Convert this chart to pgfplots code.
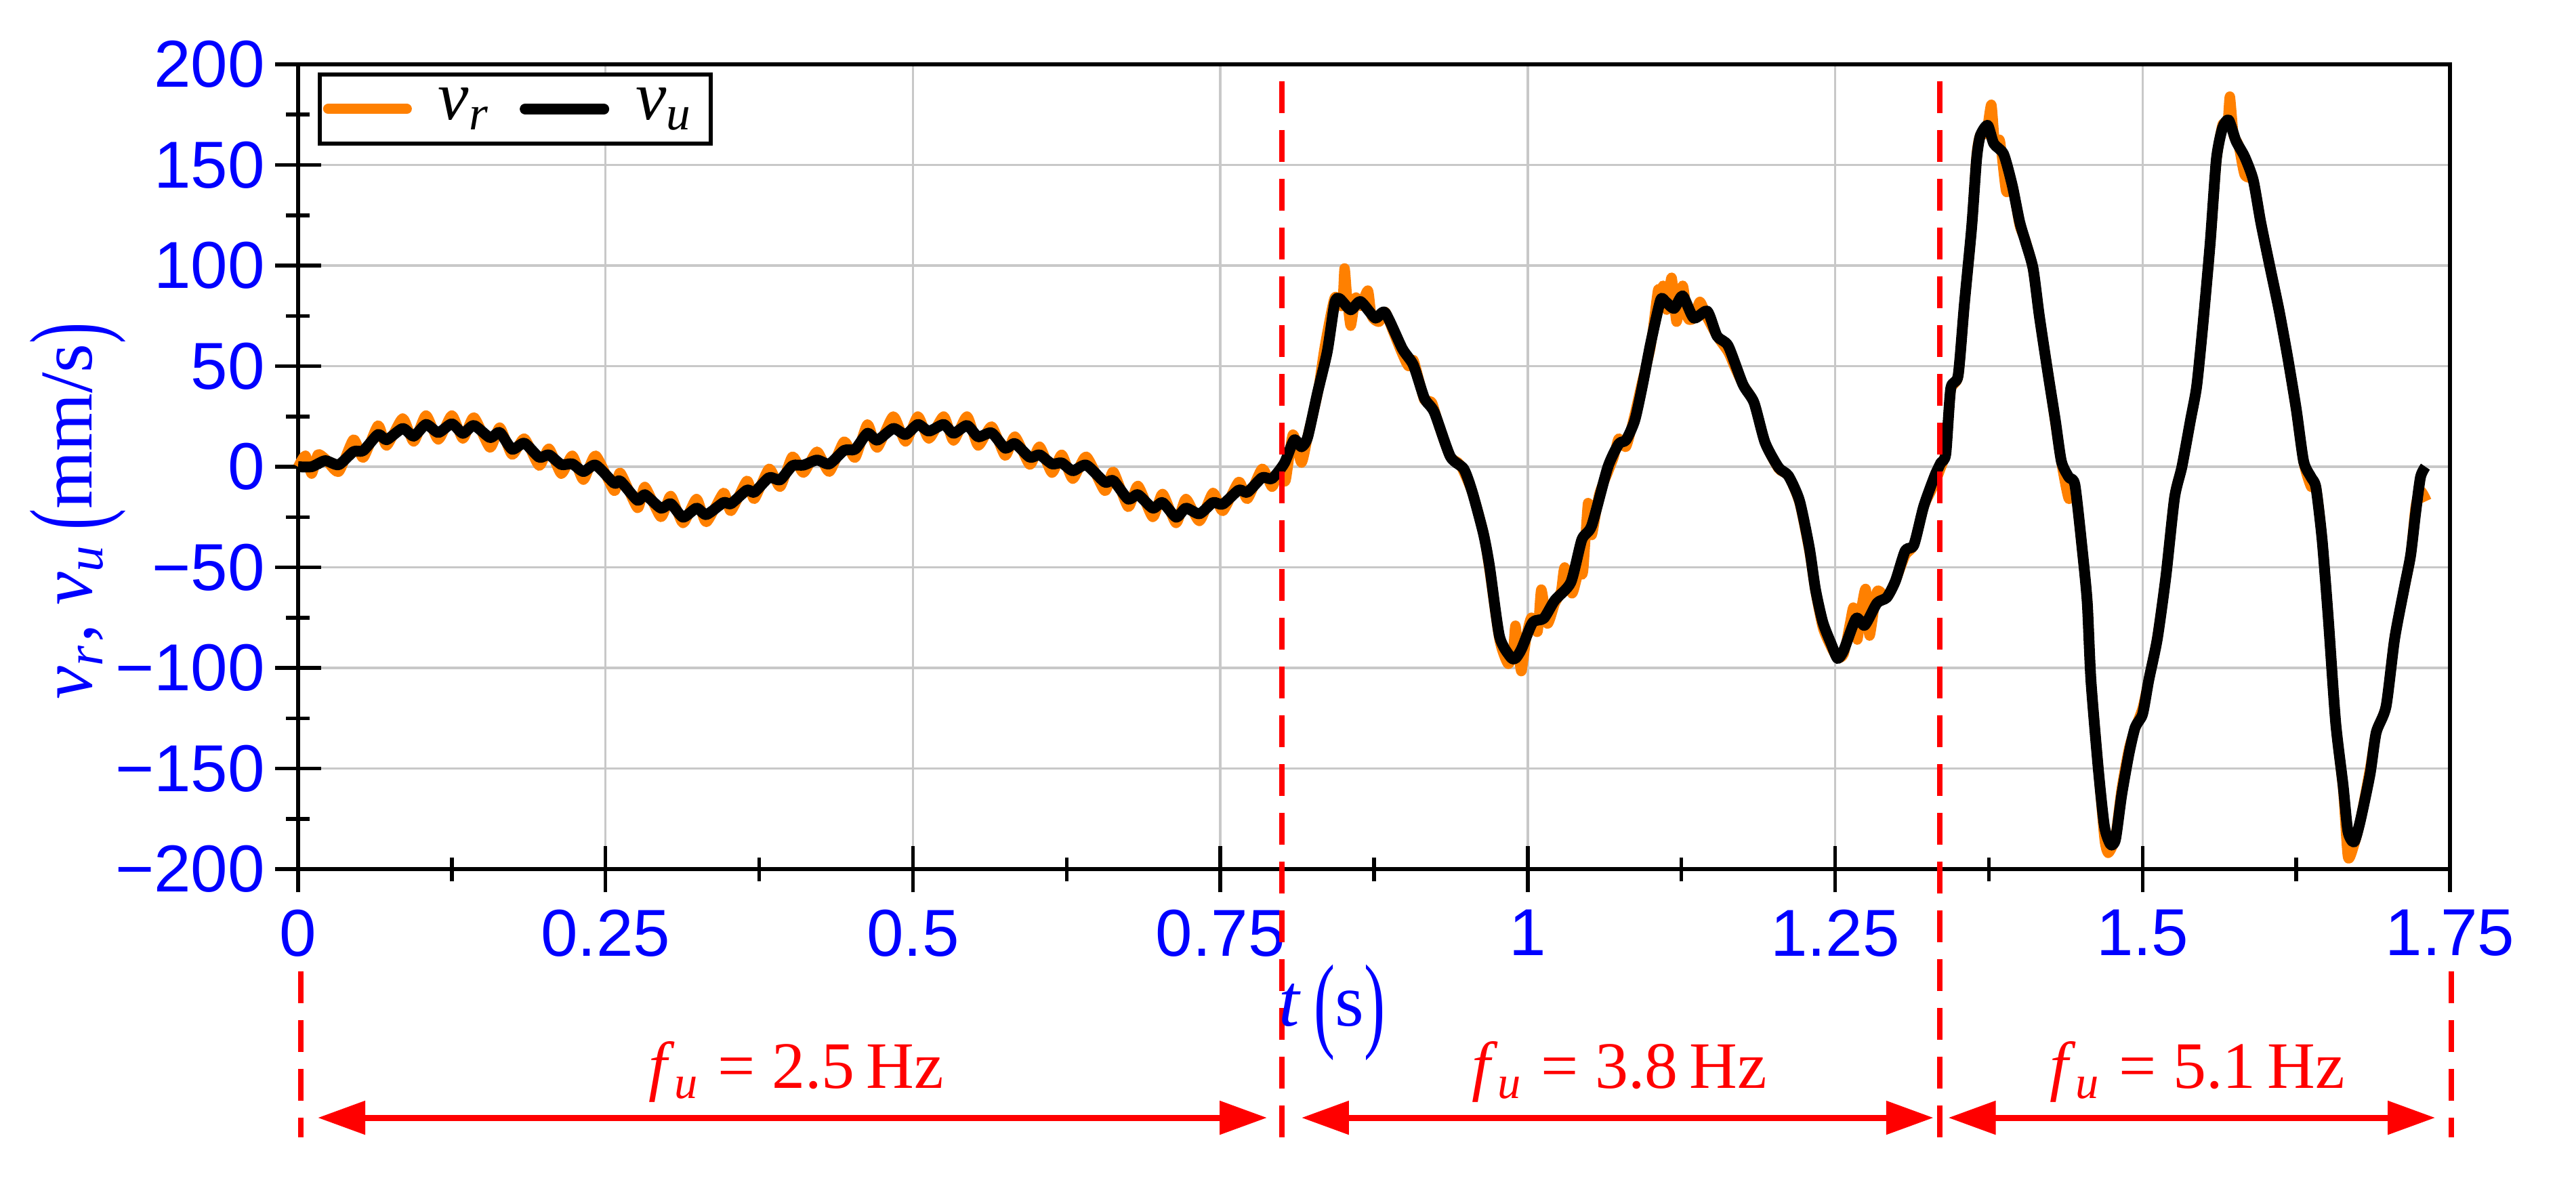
\documentclass[border=0pt]{standalone}
\usepackage{fontspec}
\setmainfont{Liberation Sans}
\newfontfamily\tnr{Liberation Serif}
\usepackage{graphicx}
\usepackage{pgfplots}
\pgfplotsset{compat=1.18}
\usetikzlibrary{arrows.meta}
\definecolor{vorange}{RGB}{255,128,0}
\definecolor{tblue}{RGB}{0,0,255}
\definecolor{ared}{RGB}{255,0,0}
\definecolor{gridgray}{RGB}{200,200,200}
\newcommand{\lpar}{\raisebox{-0.16em}{\scalebox{0.85}[1.42]{(}}}
\newcommand{\rpar}{\raisebox{-0.16em}{\scalebox{0.85}[1.42]{)}}}
\begin{document}
\begin{tikzpicture}
\path[use as bounding box] (-44pt,-45.8pt) rectangle (336.2pt,128.3pt);
\begin{axis}[
  scale only axis, width=317.6pt, height=118.8pt,
  at={(0pt,0pt)}, anchor=south west,
  xmin=0, xmax=1.75, ymin=-200, ymax=200,
  xtick={0,0.25,0.5,0.75,1,1.25,1.5,1.75},
  xticklabels={0,0.25,0.5,0.75,1,1.25,1.5,1.75},
  ytick={-200,-150,-100,-50,0,50,100,150,200},
  yticklabels={−200,−150,−100,−50,0,50,100,150,200},
  minor x tick num=1, minor y tick num=1,
  xtick pos=bottom, ytick pos=left,
  tick align=center,
  major tick length=6.8pt, minor tick length=3.5pt,
  tick style={black, line width=0.55pt},
  axis line style={black, line width=0.55pt},
  grid=major,
  major grid style={draw=gridgray, line width=0.35pt},
  ticklabel style={font=\fontsize{9.8}{11}\selectfont, text=tblue, inner sep=0pt},
  xticklabel style={anchor=north, yshift=-2.4pt},
  yticklabel style={anchor=east, xshift=-1.3pt},
  xlabel={\fontsize{11}{13}\selectfont\tnr\textit{t}\,\lpar s\rpar},
  ylabel={\fontsize{11}{13}\selectfont\tnr\textit{v}\textsubscript{\textit{r}}, \textit{v}\textsubscript{\textit{u}}\,\lpar mm/s\rpar},
  xlabel style={at={(axis description cs:0.4805,-0.178)}, anchor=center, text=tblue, inner sep=0pt},
  ylabel style={at={(axis description cs:-0.1023,0.445)}, anchor=center, text=tblue, inner sep=0pt},
  clip=false,
  legend columns=2,
  legend cell align=left,
  legend image code/.code={\draw[#1, line cap=round] (0pt,0pt) -- (11.6pt,0pt); \path (13.5pt,0pt);},
  legend style={at={(axis description cs:0.0091,0.9899)}, anchor=north west,
    draw=black, line width=0.6pt, fill=white,
    inner xsep=0.5pt, inner ysep=0.5pt,
    font=\fontsize{10.2}{12}\selectfont\tnr,
    nodes={inner xsep=2pt, inner ysep=1.5pt},
    /tikz/every even column/.style={column sep=2.2pt},
    /tikz/every odd column/.style={column sep=0pt}},
]
\addplot[vorange, line width=1.5pt, line join=round, smooth, tension=0.4] coordinates {
(0,0)(0.006,5.5)(0.011,-3.5)(0.016,6)(0.022,4)(0.033,-2.5)(0.045,13.5)(0.053,4.5)(0.065,20.5)(0.072,10.5)(0.085,24)(0.094,12.5)(0.104,25.5)(0.114,13.5)(0.125,25.5)(0.134,14)(0.143,24.5)(0.156,9.5)(0.164,19.5)(0.174,6)(0.184,14)(0.196,0.5)(0.204,9)(0.214,-3.5)(0.223,5.5)(0.232,-6.5)(0.242,5.5)(0.257,-12)(0.262,-3)(0.276,-20.5)(0.282,-10)(0.295,-25)(0.303,-14.5)(0.313,-28)(0.324,-16)(0.332,-27.5)(0.346,-13)(0.352,-22)(0.365,-7)(0.371,-16)(0.383,-1)(0.392,-10)(0.402,5)(0.411,-3)(0.422,7.5)(0.432,-2.5)(0.444,12.5)(0.453,4.5)(0.463,21)(0.471,9.5)(0.484,25)(0.494,12.5)(0.504,25)(0.513,14)(0.525,25)(0.533,13)(0.544,25)(0.553,10.5)(0.564,20)(0.575,5.5)(0.583,15)(0.595,1)(0.603,10)(0.613,-3)(0.621,6)(0.630,-6)(0.641,5)(0.656,-12)(0.663,-2.5)(0.675,-20)(0.683,-9.5)(0.695,-25)(0.703,-13.5)(0.714,-28)(0.722,-16)(0.733,-27)(0.744,-13)(0.752,-22)(0.765,-7.5)(0.772,-16)(0.784,-1)(0.792,-10)(0.798,-2)(0.803,-7)(0.809,16)(0.816,2)(0.822,18)(0.829,36)(0.835,60)(0.843,84)(0.849,80)(0.851,98.6)(0.853,85)(0.856,70)(0.860,84)(0.864,80)(0.870,87.6)(0.873,75)(0.879,72)(0.884,77)(0.890,68)(0.898,56)(0.903,50)(0.907,53)(0.912,42)(0.916,33)(0.922,32)(0.928,20)(0.937,5)(0.945,1)(0.955,-13)(0.964,-33)(0.969,-52)(0.977,-86)(0.984,-98)(0.988,-92)(0.990,-79)(0.993,-95)(0.995,-101.5)(0.999,-84)(1.003,-75)(1.008,-82)(1.011,-61)(1.016,-78)(1.022,-68)(1.027,-62)(1.030,-50)(1.036,-63)(1.041,-53)(1.045,-52)(1.049,-18)(1.052,-34)(1.058,-14)(1.065,-3)(1.070,5)(1.074,14)(1.080,10)(1.087,26)(1.093,42)(1.100,60)(1.106,88)(1.108,80)(1.110,90)(1.113,78)(1.117,94)(1.121,72)(1.126,90)(1.130,74)(1.135,73.9)(1.140,82)(1.146,74)(1.154,64.9)(1.163,57)(1.168,50)(1.175,40.9)(1.184,31.9)(1.193,12)(1.204,-1)(1.212,-4.5)(1.221,-18)(1.229,-42)(1.234,-62)(1.240,-80)(1.247,-90)(1.252,-95)(1.257,-93)(1.262,-78)(1.265,-70)(1.268,-86)(1.272,-68)(1.275,-61)(1.278,-84)(1.284,-62)(1.292,-65)(1.299,-56.8)(1.307,-44)(1.314,-38.9)(1.322,-20)(1.328,-12)(1.331,-8)(1.335,-2)(1.340,8)(1.344,38)(1.350,45)(1.355,80)(1.361,119)(1.365,155)(1.368,165)(1.373,166)(1.377,180)(1.380,160)(1.384,162)(1.389,137)(1.394,140)(1.400,120)(1.405,112)(1.411,98)(1.416,75)(1.423,47)(1.429,22)(1.434,2)(1.440,-16)(1.445,-10)(1.451,-42)(1.455,-67)(1.458,-106)(1.464,-150)(1.469,-185)(1.472,-192)(1.476,-188)(1.478,-184)(1.483,-160)(1.489,-140)(1.494,-130)(1.500,-120)(1.505,-106)(1.512,-85)(1.519,-54)(1.526,-15)(1.532,0)(1.539,23)(1.544,40)(1.549,70)(1.555,111)(1.560,152)(1.565,170)(1.569,170)(1.571,184)(1.574,165)(1.578,160)(1.583,145)(1.590,142)(1.596,122)(1.603,101)(1.611,78)(1.618,54)(1.625,28)(1.631,2)(1.637,-10)(1.641,-10)(1.646,-36)(1.651,-75)(1.657,-127)(1.663,-160)(1.667,-194)(1.672,-188)(1.677,-176)(1.685,-150)(1.690,-132)(1.698,-119)(1.705,-85)(1.713,-60)(1.718,-44)(1.722,-20)(1.726,-12)(1.731,-17)
};
\addlegendentry{\textit{v}\textsubscript{\textit{r}}}
\addplot[black, line width=1.6pt, line join=round, smooth, tension=0.4] coordinates {
(0,0)(0.011,0)(0.022,3)(0.033,1)(0.045,7.5)(0.053,8)(0.065,16)(0.072,13.4)(0.085,19)(0.094,15.2)(0.104,21)(0.114,17)(0.125,21.3)(0.134,16.6)(0.143,20.5)(0.156,14.5)(0.164,17)(0.174,8.7)(0.184,11.7)(0.196,4.7)(0.204,5.9)(0.214,1.1)(0.223,1.4)(0.232,-2.4)(0.242,0.8)(0.257,-8.2)(0.262,-7.1)(0.276,-16.7)(0.282,-13.9)(0.295,-20.6)(0.303,-18.4)(0.313,-25.1)(0.324,-20.6)(0.332,-23.8)(0.346,-17.8)(0.352,-18.4)(0.365,-11.6)(0.371,-12.7)(0.383,-5.4)(0.392,-6.5)(0.402,0.5)(0.411,0.8)(0.422,3.3)(0.432,1.4)(0.444,8.1)(0.453,8.7)(0.463,16.6)(0.471,13.2)(0.484,19)(0.494,16)(0.504,21)(0.513,17.7)(0.525,21)(0.533,16.6)(0.544,20.5)(0.553,14.9)(0.564,16.8)(0.575,9.2)(0.583,11.5)(0.595,4.7)(0.603,5.9)(0.613,1.4)(0.621,1.9)(0.630,-2)(0.641,0.8)(0.656,-7.7)(0.663,-6.9)(0.675,-16.1)(0.683,-13.9)(0.695,-20.6)(0.703,-17.8)(0.714,-25.1)(0.722,-20.6)(0.733,-23.4)(0.744,-17.8)(0.752,-18.6)(0.765,-11.6)(0.772,-12.7)(0.784,-5.4)(0.792,-5.9)(0.802,1.7)(0.810,13.3)(0.816,9.9)(0.821,14.7)(0.829,36.7)(0.837,57.4)(0.843,81.4)(0.847,83.5)(0.856,78)(0.864,82.1)(0.876,73.9)(0.884,76.6)(0.898,58.7)(0.907,50.5)(0.916,34)(0.924,27.1)(0.937,5.1)(0.948,-1.1)(0.955,-12.8)(0.964,-33.4)(0.969,-49.9)(0.977,-84.3)(0.986,-94.6)(0.990,-95.3)(0.995,-90.5)(1.004,-77.4)(1.013,-75.4)(1.022,-66.4)(1.035,-57.5)(1.044,-36.2)(1.052,-29.3)(1.065,-0.4)(1.074,11.3)(1.080,13.3)(1.087,23)(1.093,39.5)(1.100,61.5)(1.108,82.8)(1.112,82.1)(1.119,78.7)(1.126,84.9)(1.135,73.9)(1.146,77.3)(1.154,64.9)(1.163,60.1)(1.175,40.9)(1.184,31.9)(1.193,12)(1.204,-0.4)(1.212,-4.5)(1.221,-16.9)(1.229,-40.3)(1.234,-61)(1.240,-77.4)(1.247,-88.4)(1.252,-95.3)(1.257,-91.2)(1.267,-75.4)(1.274,-78.8)(1.284,-67.8)(1.292,-65)(1.299,-56.8)(1.307,-41.7)(1.314,-38.9)(1.322,-19.7)(1.331,-4.5)(1.336,2)(1.340,6.5)(1.344,38.9)(1.350,45.3)(1.355,80.3)(1.361,119)(1.365,152.8)(1.368,164.5)(1.374,169.7)(1.379,160.6)(1.387,155.4)(1.394,139.9)(1.400,121.8)(1.405,111.4)(1.411,98.4)(1.416,75.1)(1.423,46.6)(1.429,23.3)(1.434,2.6)(1.440,-5.2)(1.445,-9.1)(1.451,-41.5)(1.455,-67.4)(1.458,-106.2)(1.464,-150.3)(1.469,-178.8)(1.474,-187.8)(1.478,-185.2)(1.483,-163.2)(1.489,-142.5)(1.494,-129.5)(1.500,-123)(1.505,-106.2)(1.512,-85.5)(1.519,-54.4)(1.526,-15.5)(1.532,0)(1.539,23.3)(1.544,40)(1.549,70)(1.555,111.4)(1.560,152.8)(1.565,168.4)(1.570,172.3)(1.576,161.9)(1.583,154.1)(1.590,142.5)(1.596,121.8)(1.603,101)(1.611,77.7)(1.618,54.4)(1.625,28.5)(1.631,2.6)(1.637,-5.2)(1.641,-10.4)(1.646,-36.3)(1.651,-75.1)(1.657,-126.9)(1.663,-158)(1.667,-181.3)(1.672,-186.5)(1.677,-176.2)(1.685,-152.8)(1.690,-132.1)(1.698,-119.2)(1.705,-85.5)(1.713,-59.6)(1.718,-44)(1.722,-23.3)(1.726,-5.2)(1.730,0)
};
\addlegendentry{\textit{v}\textsubscript{\textit{u}}}
% dashed separators
\draw[ared, line width=0.8pt, dash pattern=on 4.7pt off 2.5pt] (axis cs:0.8,191.6) -- (axis cs:0.8,-333.3);
\draw[ared, line width=0.8pt, dash pattern=on 4.7pt off 2.5pt] (axis cs:1.335,191.6) -- (axis cs:1.335,-333.3);
\draw[ared, line width=0.8pt, dash pattern=on 4.7pt off 2.5pt] (axis cs:0.002,-250.8) -- (axis cs:0.002,-333.3);
\draw[ared, line width=0.8pt, dash pattern=on 4.7pt off 2.5pt] (axis cs:1.751,-250.8) -- (axis cs:1.751,-333.3);
% arrows
\draw[ared, line width=0.9pt, {Triangle[length=7pt,width=4.8pt]}-{Triangle[length=7pt,width=4.8pt]}] (axis cs:0.016,-323.6) -- (axis cs:0.788,-323.6);
\draw[ared, line width=0.9pt, {Triangle[length=7pt,width=4.8pt]}-{Triangle[length=7pt,width=4.8pt]}] (axis cs:0.816,-323.6) -- (axis cs:1.330,-323.6);
\draw[ared, line width=0.9pt, {Triangle[length=7pt,width=4.8pt]}-{Triangle[length=7pt,width=4.8pt]}] (axis cs:1.342,-323.6) -- (axis cs:1.738,-323.6);
% labels
\node[anchor=base, text=ared, inner sep=0pt, font=\fontsize{9.8}{11}\selectfont\tnr] at (axis cs:0.405,-308.8) {\textit{f}\textsubscript{\textit{u}} = 2.5\,Hz};
\node[anchor=base, text=ared, inner sep=0pt, font=\fontsize{9.8}{11}\selectfont\tnr] at (axis cs:1.0745,-308.8) {\textit{f}\textsubscript{\textit{u}} = 3.8\,Hz};
\node[anchor=base, text=ared, inner sep=0pt, font=\fontsize{9.8}{11}\selectfont\tnr] at (axis cs:1.5445,-308.8) {\textit{f}\textsubscript{\textit{u}} = 5.1\,Hz};
\end{axis}
\end{tikzpicture}
\end{document}
